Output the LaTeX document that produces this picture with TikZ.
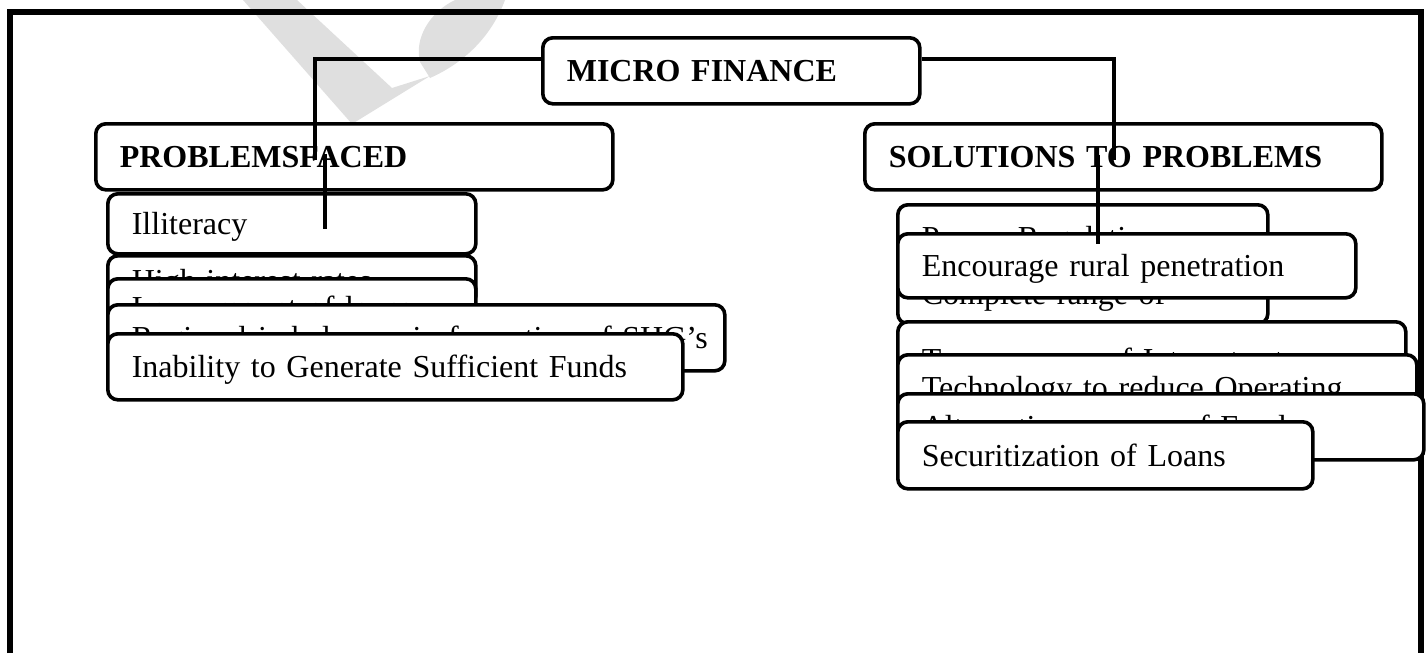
\documentclass[tikz,border=0pt]{standalone}
\usepackage{fontspec}
\setmainfont{Liberation Serif}
\usetikzlibrary{positioning}

\tikzset{
  item/.style={draw, line width=1.8pt, rounded corners=5pt, fill=white,
    anchor=north west, inner xsep=12pt, inner ysep=2pt, align=left,
    text height=11pt, text depth=0pt, font=\fontsize{16}{19}\selectfont},
  head/.style={item, font=\fontsize{16}{19}\selectfont\bfseries},
  link/.style={line width=2pt},
  frame/.style={line width=3pt}
}

\begin{document}
\begin{tikzpicture}[x=0.5pt,y=-0.5pt]
\useasboundingbox (0,0) rectangle (1427,653);
% watermark
\fill[gray!25] (243,0) -- (297,0) -- (392,88) -- (430,76) -- (352,124) -- cycle;
\fill[gray!25] (420,62) .. controls (414,38) and (430,12) .. (455,0) -- (505,0)
  .. controls (492,35) and (466,62) .. (430,78) -- cycle;
% frame
\draw[frame] (10,653) -- (10,12) -- (1421,12) -- (1421,653);
% top
\node[head, text width=164.5pt, minimum height=33pt] (micro) at (541,36) {MICRO FINANCE};
% problems
\node[head, text width=234.5pt, minimum height=33pt] (prob) at (94,122) {PROBLEMSFACED};
\node[item, text width=160pt, minimum height=30pt] (illit) at (106,192) {Illiteracy};
\node[item, text width=160pt, minimum height=25pt] (rates) at (106,254) {High interest rates};
\node[item, text width=160pt, minimum height=29pt] (loans) at (106,277) {Low amount of loans};
\node[item, text width=284.5pt, minimum height=33pt] (shg) at (106,303) {\mbox{Regional imbalances in formation of SHG's}};
\node[item, text width=263.5pt, minimum height=33pt] (funds) at (106,332) {Inability to Generate Sufficient Funds};
% solutions
\node[head, text width=234.5pt, minimum height=33pt] (sol) at (863,122) {SOLUTIONS TO PROBLEMS};
\node[item, text width=161pt, minimum height=33pt] (regul) at (896,203) {Proper Regulation};
\node[item, text width=161pt, minimum height=30pt] (range) at (896,262) {Complete range of};
\node[item, text width=205pt, minimum height=32pt] (rural) at (896,232) {Encourage rural penetration};
\node[item, text width=230pt, minimum height=38pt] (transp) at (896,320) {Transparency of Interest rates};
\node[item, text width=235.5pt, minimum height=33pt] (techn) at (896,353) {Technology to reduce Operating};
\node[item, text width=239pt, minimum height=33pt] (alter) at (896,392) {Alternative sources of Funds};
\node[item, text width=183.5pt, minimum height=33.5pt] (secur) at (896,420) {Securitization of Loans};
% connectors
\draw[link] (micro.west) ++(0,-12) -| ([xshift=-19.75pt,yshift=-1.5pt]prob.center);
\draw[link] ([xshift=-14.75pt,yshift=1.5pt]prob.center) -- ++(0,75);
\draw[link] (micro.east) ++(0,-12) -| ([xshift=-4.75pt,yshift=-1.5pt]sol.center);
\draw[link] ([xshift=-12.75pt,yshift=1pt]sol.center) -- ++(0,89);
\end{tikzpicture}
\end{document}
